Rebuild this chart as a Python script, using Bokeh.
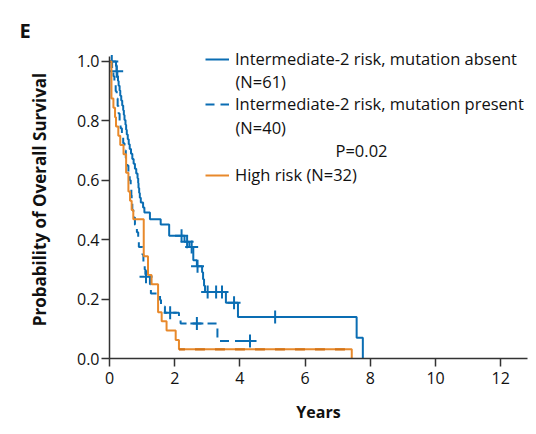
import numpy as np
from bokeh.plotting import figure
from bokeh.models import Legend, LegendItem, Label, FixedTicker, Range1d, CustomJSTickFormatter
from bokeh.embed import file_html
from bokeh.resources import INLINE

FONT = "Open Sans"
BLUE = "#0a6db3"
ORANGE = "#e8892b"
ORANGE_DARK = "#d47418"

# Intermediate-2 risk, mutation absent (N=61): step times and survival after each step
absent_t = [0.00, 0.20, 0.22, 0.24, 0.26, 0.28, 0.31, 0.33, 0.36, 0.39, 0.42, 0.44, 0.46,
            0.49, 0.51, 0.53, 0.56, 0.59, 0.62, 0.66, 0.70, 0.74, 0.78, 0.82, 0.86, 0.88,
            0.89, 0.91, 0.93, 0.96, 1.03, 1.07, 1.24, 1.57, 1.83, 2.30, 2.45, 2.57, 2.68,
            2.84, 2.87, 2.90, 2.93, 3.57, 3.94, 7.58, 7.77]
absent_s = [1.000, 0.984, 0.967, 0.951, 0.934, 0.918, 0.902, 0.885, 0.869, 0.852, 0.836,
            0.820, 0.803, 0.787, 0.770, 0.754, 0.738, 0.721, 0.705, 0.689, 0.672, 0.656,
            0.639, 0.623, 0.607, 0.590, 0.574, 0.557, 0.541, 0.525, 0.508, 0.492, 0.469,
            0.451, 0.413, 0.393, 0.375, 0.331, 0.311, 0.290, 0.267, 0.245, 0.224, 0.188,
            0.140, 0.070, 0.000]
absent_cens = [0.07, 0.22, 2.21, 2.38, 2.52, 2.70, 3.01, 3.27, 3.45, 3.82, 5.08]

# Intermediate-2 risk, mutation present (N=40)
present_t = [0.00, 0.08, 0.12, 0.15, 0.19, 0.22, 0.25, 0.28, 0.31, 0.34, 0.38, 0.42, 0.46,
             0.50, 0.54, 0.58, 0.62, 0.65, 0.67, 0.68, 0.70, 0.73, 0.78, 0.84, 0.88, 0.90,
             1.01, 1.04, 1.08, 1.10, 1.24, 1.27, 1.55, 1.58, 1.70, 2.13, 2.18, 3.31, 4.31]
present_s = [1.000, 0.975, 0.950, 0.925, 0.900, 0.875, 0.850, 0.825, 0.800, 0.775, 0.750,
             0.725, 0.700, 0.675, 0.650, 0.625, 0.600, 0.575, 0.550, 0.525, 0.500, 0.475,
             0.450, 0.425, 0.400, 0.375, 0.350, 0.325, 0.300, 0.275, 0.250, 0.219, 0.197,
             0.175, 0.154, 0.136, 0.118, 0.059, 0.059]
present_cens = [1.12, 1.86, 2.68, 4.31]

# High risk (N=32)
high_t = [0.00, 0.06, 0.12, 0.17, 0.20, 0.27, 0.33, 0.43, 0.51, 0.58, 0.63, 0.68, 0.73,
          1.05, 1.18, 1.29, 1.49, 1.60, 1.75, 2.03, 2.13, 7.43]
high_s = [1.000, 0.875, 0.844, 0.812, 0.781, 0.750, 0.719, 0.688, 0.625, 0.562, 0.531,
          0.500, 0.469, 0.344, 0.281, 0.250, 0.156, 0.125, 0.094, 0.062, 0.031, 0.000]

x_ticks = [0, 2, 4, 6, 8, 10, 12]
y_ticks = [0.0, 0.2, 0.4, 0.6, 0.8, 1.0]


def level_at(ts, ss, t):
    idx = np.searchsorted(np.array(ts), np.array(t), side="right") - 1
    return list(np.array(ss)[idx])


p = figure(width=528, height=426, output_backend="svg", toolbar_location=None,
           x_range=Range1d(0, 12.82), y_range=Range1d(0, 1.0707),
           min_border_left=109, min_border_right=1, min_border_top=40, min_border_bottom=68)
p.outline_line_color = None
p.grid.visible = False
p.background_fill_color = "white"
p.border_fill_color = "white"

p.title.text = "E"
p.title.align = "left"
p.title.offset = -90
p.title.standoff = -6
p.title.text_font = FONT
p.title.text_font_size = "20px"
p.title.text_font_style = "bold"
p.title.text_color = "#111111"

r_abs = p.step(absent_t, absent_s, mode="after", line_color=BLUE, line_width=2)
r_pre = p.step(present_t, present_s, mode="after", line_color=BLUE, line_width=2,
               line_dash="9 6")
p.scatter(absent_cens, level_at(absent_t, absent_s, absent_cens), marker="cross", size=13,
          line_color=BLUE, line_width=2)
p.scatter(present_cens, level_at(present_t, present_s, present_cens), marker="cross", size=13,
          line_color=BLUE, line_width=2)
r_high = p.step(high_t, high_s, mode="after", line_color=ORANGE, line_width=2)
# darker dashed overlay seen on the long final plateau of the high-risk curve
p.line(high_t[-2:], [high_s[-2], high_s[-2]], line_color=ORANGE_DARK, line_width=2.2,
       line_dash="10 10", line_dash_offset=4)

for ax in (p.xaxis[0], p.yaxis[0]):
    ax.axis_line_color = "#333333"
    ax.axis_line_width = 1.5
    ax.major_tick_line_color = "#333333"
    ax.major_tick_line_width = 1.5
    ax.major_tick_in = 0
    ax.major_tick_out = 8
    ax.minor_tick_line_color = None
    ax.major_label_text_font = FONT
    ax.major_label_text_font_size = "16px"
    ax.major_label_text_color = "#111111"
    ax.axis_label_text_font = FONT
    ax.axis_label_text_font_style = "bold"
    ax.axis_label_text_font_size = "16px"
    ax.axis_label_text_color = "#111111"

p.xaxis.ticker = FixedTicker(ticks=x_ticks)
p.yaxis.ticker = FixedTicker(ticks=y_ticks)
p.yaxis.bounds = (0, 1.017)
p.yaxis.formatter = CustomJSTickFormatter(code="return tick.toFixed(1);")
p.xaxis.axis_label = "Years"
p.yaxis.axis_label = "Probability of Overall Survival"
p.yaxis.axis_label_text_font_size = "17px"
p.xaxis.major_label_standoff = 5
p.yaxis.major_label_standoff = 2
p.xaxis.axis_label_standoff = 14
p.yaxis.axis_label_standoff = 23

LEG_SIZE = "16.5px"


def make_legend(items, loc, spacing):
    lg = Legend(items=items, location=loc, spacing=spacing, padding=0, margin=0,
                glyph_width=24, glyph_height=22, label_height=22, label_width=300,
                label_standoff=6,
                label_text_font=FONT, label_text_font_size=LEG_SIZE,
                label_text_color="#111111", border_line_color=None,
                background_fill_alpha=0)
    p.add_layout(lg, "center")
    return lg

make_legend([LegendItem(label="Intermediate-2 risk, mutation absent", renderers=[r_abs]),
             LegendItem(label="Intermediate-2 risk, mutation present", renderers=[r_pre])],
            (96, 243), 22)
make_legend([LegendItem(label="High risk (N=32)", renderers=[r_high])], (96, 172), 0)


def add_label(text, x, y):
    p.add_layout(Label(x=x, y=y, x_units="screen", y_units="screen", text=text,
                       text_font=FONT, text_font_size=LEG_SIZE,
                       text_color="#111111", text_baseline="middle", text_align="left"))

add_label("(N=61)", 126, 277)
add_label("(N=40)", 126, 231)
add_label("P=0.02", 226, 208)

open("out.html", "w").write(file_html(p, INLINE))
